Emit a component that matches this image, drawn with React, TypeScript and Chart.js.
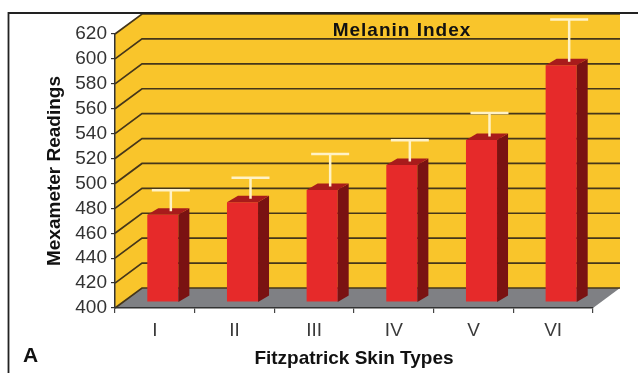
import React, { useEffect, useRef } from 'react';
import { Chart, registerables } from 'chart.js';

Chart.register(...registerables);

// ---- data ----
const categories = ['I', 'II', 'III', 'IV', 'V', 'VI'];
const melaninMeans = [470, 480, 490, 510, 530, 590];
const melaninErrors = [17, 17, 26, 17, 19, 34];
const yMin = 400;
const yMax = 620;
const yStep = 20;

const chartTitle = 'Melanin Index';
const yTitle = 'Mexameter Readings';
const xTitle = 'Fitzpatrick Skin Types';
const panelLabel = 'A';

// ---- style constants ----
const FONT = '"Liberation Sans", Arial, Helvetica, sans-serif';
const WALL_DX = 27;
const WALL_DY = -20;
const BAR_SHIFT_X = 8;
const BAR_SHIFT_Y = -6;
const BAR_DX = 11;
const BAR_DY = -6.5;
const ERR_DX = 16;
const ERR_DY = -9.5;
const ERR_CAP = 38;

const YELLOW = '#F9C52B';
const GRID = '#45361a';
const FLOOR = '#7f8084';
const RED_FRONT = '#E62A2A';
const RED_SIDE = '#7A1212';
const RED_TOP = '#A81B1B';
const ERR_COLOR = '#FFF2C6';

const scene3d = {
  id: 'scene3d',
  beforeDraw(chart: any) {
    const { ctx, chartArea: a } = chart;
    const y = chart.scales.y;
    const L = a.left;
    const R = a.right;
    const B = y.getPixelForValue(yMin);
    const T = y.getPixelForValue(yMax);
    ctx.save();
    // walls
    ctx.fillStyle = YELLOW;
    ctx.beginPath();
    ctx.moveTo(L, B);
    ctx.lineTo(L, T);
    ctx.lineTo(L + WALL_DX, T + WALL_DY);
    ctx.lineTo(R + WALL_DX, T + WALL_DY);
    ctx.lineTo(R + WALL_DX, B + WALL_DY);
    ctx.lineTo(L + WALL_DX, B + WALL_DY);
    ctx.closePath();
    ctx.fill();
    // floor
    ctx.fillStyle = FLOOR;
    ctx.beginPath();
    ctx.moveTo(L, B);
    ctx.lineTo(R, B);
    ctx.lineTo(R + WALL_DX, B + WALL_DY);
    ctx.lineTo(L + WALL_DX, B + WALL_DY);
    ctx.closePath();
    ctx.fill();
    // grid lines
    ctx.strokeStyle = GRID;
    ctx.lineWidth = 1.7;
    for (const t of y.ticks) {
      const yy = y.getPixelForValue(t.value);
      ctx.beginPath();
      ctx.moveTo(L, yy);
      ctx.lineTo(L + WALL_DX, yy + WALL_DY);
      ctx.lineTo(R + WALL_DX, yy + WALL_DY);
      ctx.stroke();
    }
    ctx.restore();
  },
  beforeDatasetsDraw(chart: any) {
    chart.ctx.save();
    chart.ctx.translate(BAR_SHIFT_X, BAR_SHIFT_Y);
  },
  afterDatasetsDraw(chart: any) {
    const ctx = chart.ctx;
    ctx.restore();
    const y = chart.scales.y;
    const meta = chart.getDatasetMeta(0);
    ctx.save();
    meta.data.forEach((el: any, i: number) => {
      const { x, y: top0, width } = el.getProps(['x', 'y', 'width'], true);
      const x0 = x - width / 2 + BAR_SHIFT_X;
      const x1 = x + width / 2 + BAR_SHIFT_X;
      const top = top0 + BAR_SHIFT_Y;
      const bot = y.getPixelForValue(yMin) + BAR_SHIFT_Y;
      // side
      ctx.fillStyle = RED_SIDE;
      ctx.beginPath();
      ctx.moveTo(x1, top);
      ctx.lineTo(x1 + BAR_DX, top + BAR_DY);
      ctx.lineTo(x1 + BAR_DX, bot + BAR_DY);
      ctx.lineTo(x1, bot);
      ctx.closePath();
      ctx.fill();
      // top
      ctx.fillStyle = RED_TOP;
      ctx.beginPath();
      ctx.moveTo(x0, top);
      ctx.lineTo(x0 + BAR_DX, top + BAR_DY);
      ctx.lineTo(x1 + BAR_DX, top + BAR_DY);
      ctx.lineTo(x1, top);
      ctx.closePath();
      ctx.fill();
      // error bar
      const ex = x + ERR_DX;
      const ey0 = top0 + ERR_DY;
      const ey1 = y.getPixelForValue(melaninMeans[i] + melaninErrors[i]) + ERR_DY;
      ctx.strokeStyle = ERR_COLOR;
      ctx.lineWidth = 2.5;
      ctx.beginPath();
      ctx.moveTo(ex, ey0);
      ctx.lineTo(ex, ey1);
      ctx.moveTo(ex - ERR_CAP / 2, ey1);
      ctx.lineTo(ex + ERR_CAP / 2, ey1);
      ctx.stroke();
    });
    ctx.restore();
  },
  afterDraw(chart: any) {
    const ctx = chart.ctx;
    ctx.save();
    ctx.fillStyle = '#111';
    ctx.textAlign = 'center';
    ctx.textBaseline = 'middle';
    ctx.font = `bold 19px ${FONT}`;
    (ctx as any).letterSpacing = '1px';
    ctx.fillText(chartTitle, 402, 31);
    (ctx as any).letterSpacing = '0px';
    ctx.font = `bold 21px ${FONT}`;
    ctx.fillText(panelLabel, 30.5, 356);
    // frame
    ctx.strokeStyle = '#222';
    ctx.lineWidth = 1.8;
    ctx.beginPath();
    ctx.moveTo(8.5, 373);
    ctx.lineTo(8.5, 13);
    ctx.lineTo(638, 13);
    ctx.stroke();
    ctx.restore();
  },
};

export default function App() {
  const ref = useRef<HTMLCanvasElement>(null);
  useEffect(() => {
    if (!ref.current) return;
    const chart = new Chart(ref.current, {
      type: 'bar',
      data: {
        labels: categories,
        datasets: [
          {
            label: chartTitle,
            data: melaninMeans,
            base: yMin,
            backgroundColor: RED_FRONT,
            borderWidth: 0,
            barPercentage: 0.39,
            categoryPercentage: 1,
          } as any,
        ],
      },
      options: {
        animation: false,
        responsive: false,
        maintainAspectRatio: false,
        devicePixelRatio: 1,
        layout: { padding: { left: 0, top: 34, right: 45, bottom: 0 } },
        plugins: {
          legend: { display: false },
          tooltip: { enabled: false },
          title: { display: false },
        },
        scales: {
          x: {
            type: 'category',
            offset: true,
            grid: { drawOnChartArea: false, offset: true, tickLength: 5, color: '#444', lineWidth: 1.2 },
            border: { display: true, color: '#333', width: 1.5 },
            ticks: { font: { family: FONT, size: 19 }, color: '#3a3a3a', padding: 6 },
            title: {
              display: true,
              text: xTitle,
              font: { family: FONT, size: 19, weight: 'bold' },
              color: '#111',
              padding: { top: 0, bottom: 3 },
            },
            afterFit: (s: any) => {
              s.height = 65;
            },
          } as any,
          y: {
            min: yMin,
            max: yMax,
            ticks: { stepSize: yStep, autoSkip: false, font: { family: FONT, size: 19 }, color: '#333', padding: 4 },
            grid: { drawOnChartArea: false, tickLength: 4, color: '#333', lineWidth: 1.2 },
            border: { display: true, color: '#333', width: 1.5 },
            title: {
              display: true,
              text: yTitle,
              font: { family: FONT, size: 19, weight: 'bold' },
              color: '#111',
              padding: { top: 43, bottom: 0 },
            },
            afterFit: (s: any) => {
              s.width = 115;
            },
          } as any,
        },
      },
      plugins: [scene3d],
    });
    return () => chart.destroy();
  }, []);
  return (
    <div style={{ position: 'fixed', left: 0, top: 0, width: 638, height: 373, background: '#fff' }}>
      <canvas ref={ref} width={638} height={373} style={{ display: 'block', width: 638, height: 373 }} />
    </div>
  );
}
